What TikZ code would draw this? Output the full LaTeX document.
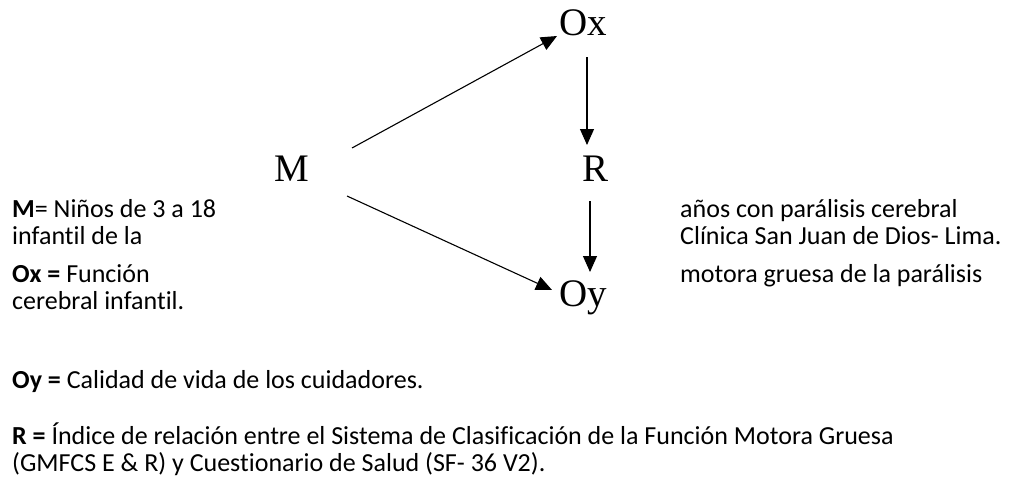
\documentclass[tikz,border=0pt]{standalone}
\usepackage{fontspec}
\setmainfont{Carlito}[Ligatures=CommonOff]
\newfontfamily\serifl{Liberation Serif}
\usetikzlibrary{arrows.meta}
\begin{document}
\begin{tikzpicture}[x=1pt,y=-1pt,
  lab/.style={font=\serifl\fontsize{39}{39}\selectfont, inner sep=0pt, text height=26pt, text depth=0pt, anchor=center},
  arr/.style={-{Triangle[length=16pt,width=14pt]}, line width=1.1pt},
  txt/.style={font=\fontsize{26}{30}\selectfont, inner sep=0pt, anchor=base west}]
\useasboundingbox (0,0) rectangle (1023,501);
% diagram
\node[lab] (Ox) at (583,22) {Ox};
\node[lab] (M) at (292,168) {M};
\node[lab] (R) at (595,168) {R};
\node[lab] (Oy) at (583,293) {Oy};
\draw[arr] ([shift={(60,-20)}]M.center) -- ([shift={(-26,14)}]Ox.center);
\draw[arr] ([shift={(4,35)}]Ox.center) -- ([shift={(-8,-23)}]R.center);
\draw[arr] ([shift={(-5,33)}]R.center) -- ([shift={(7,-21)}]Oy.center);
\draw[arr] ([shift={(55,28)}]M.center) -- ([shift={(-31,-3)}]Oy.center);
% texts
\node[txt] (t1) at (12,217) {\textbf{M}= Niños de 3 a 18};
\node[txt] (t1b) at (680,217) {años con parálisis cerebral};
\node[txt] (t2) at (12,244) {infantil de la};
\node[txt] (t2b) at (680,244) {Clínica San Juan de Dios- Lima.};
\node[txt] (t3) at (12,282) {\textbf{Ox =} Función};
\node[txt] (t3b) at (680,282) {motora gruesa de la parálisis};
\node[txt] (t4) at (12,309) {cerebral infantil.};
\node[txt] (t5) at (12,388) {\textbf{Oy =} Calidad de vida de los cuidadores.};
\node[txt] (t6) at (12,444) {\textbf{R =} Índice de relación entre el Sistema de Clasificación de la Función Motora Gruesa};
\node[txt] (t7) at (12,471) {(GMFCS E \& R) y Cuestionario de Salud (SF- 36 V2).};
\end{tikzpicture}
\end{document}
